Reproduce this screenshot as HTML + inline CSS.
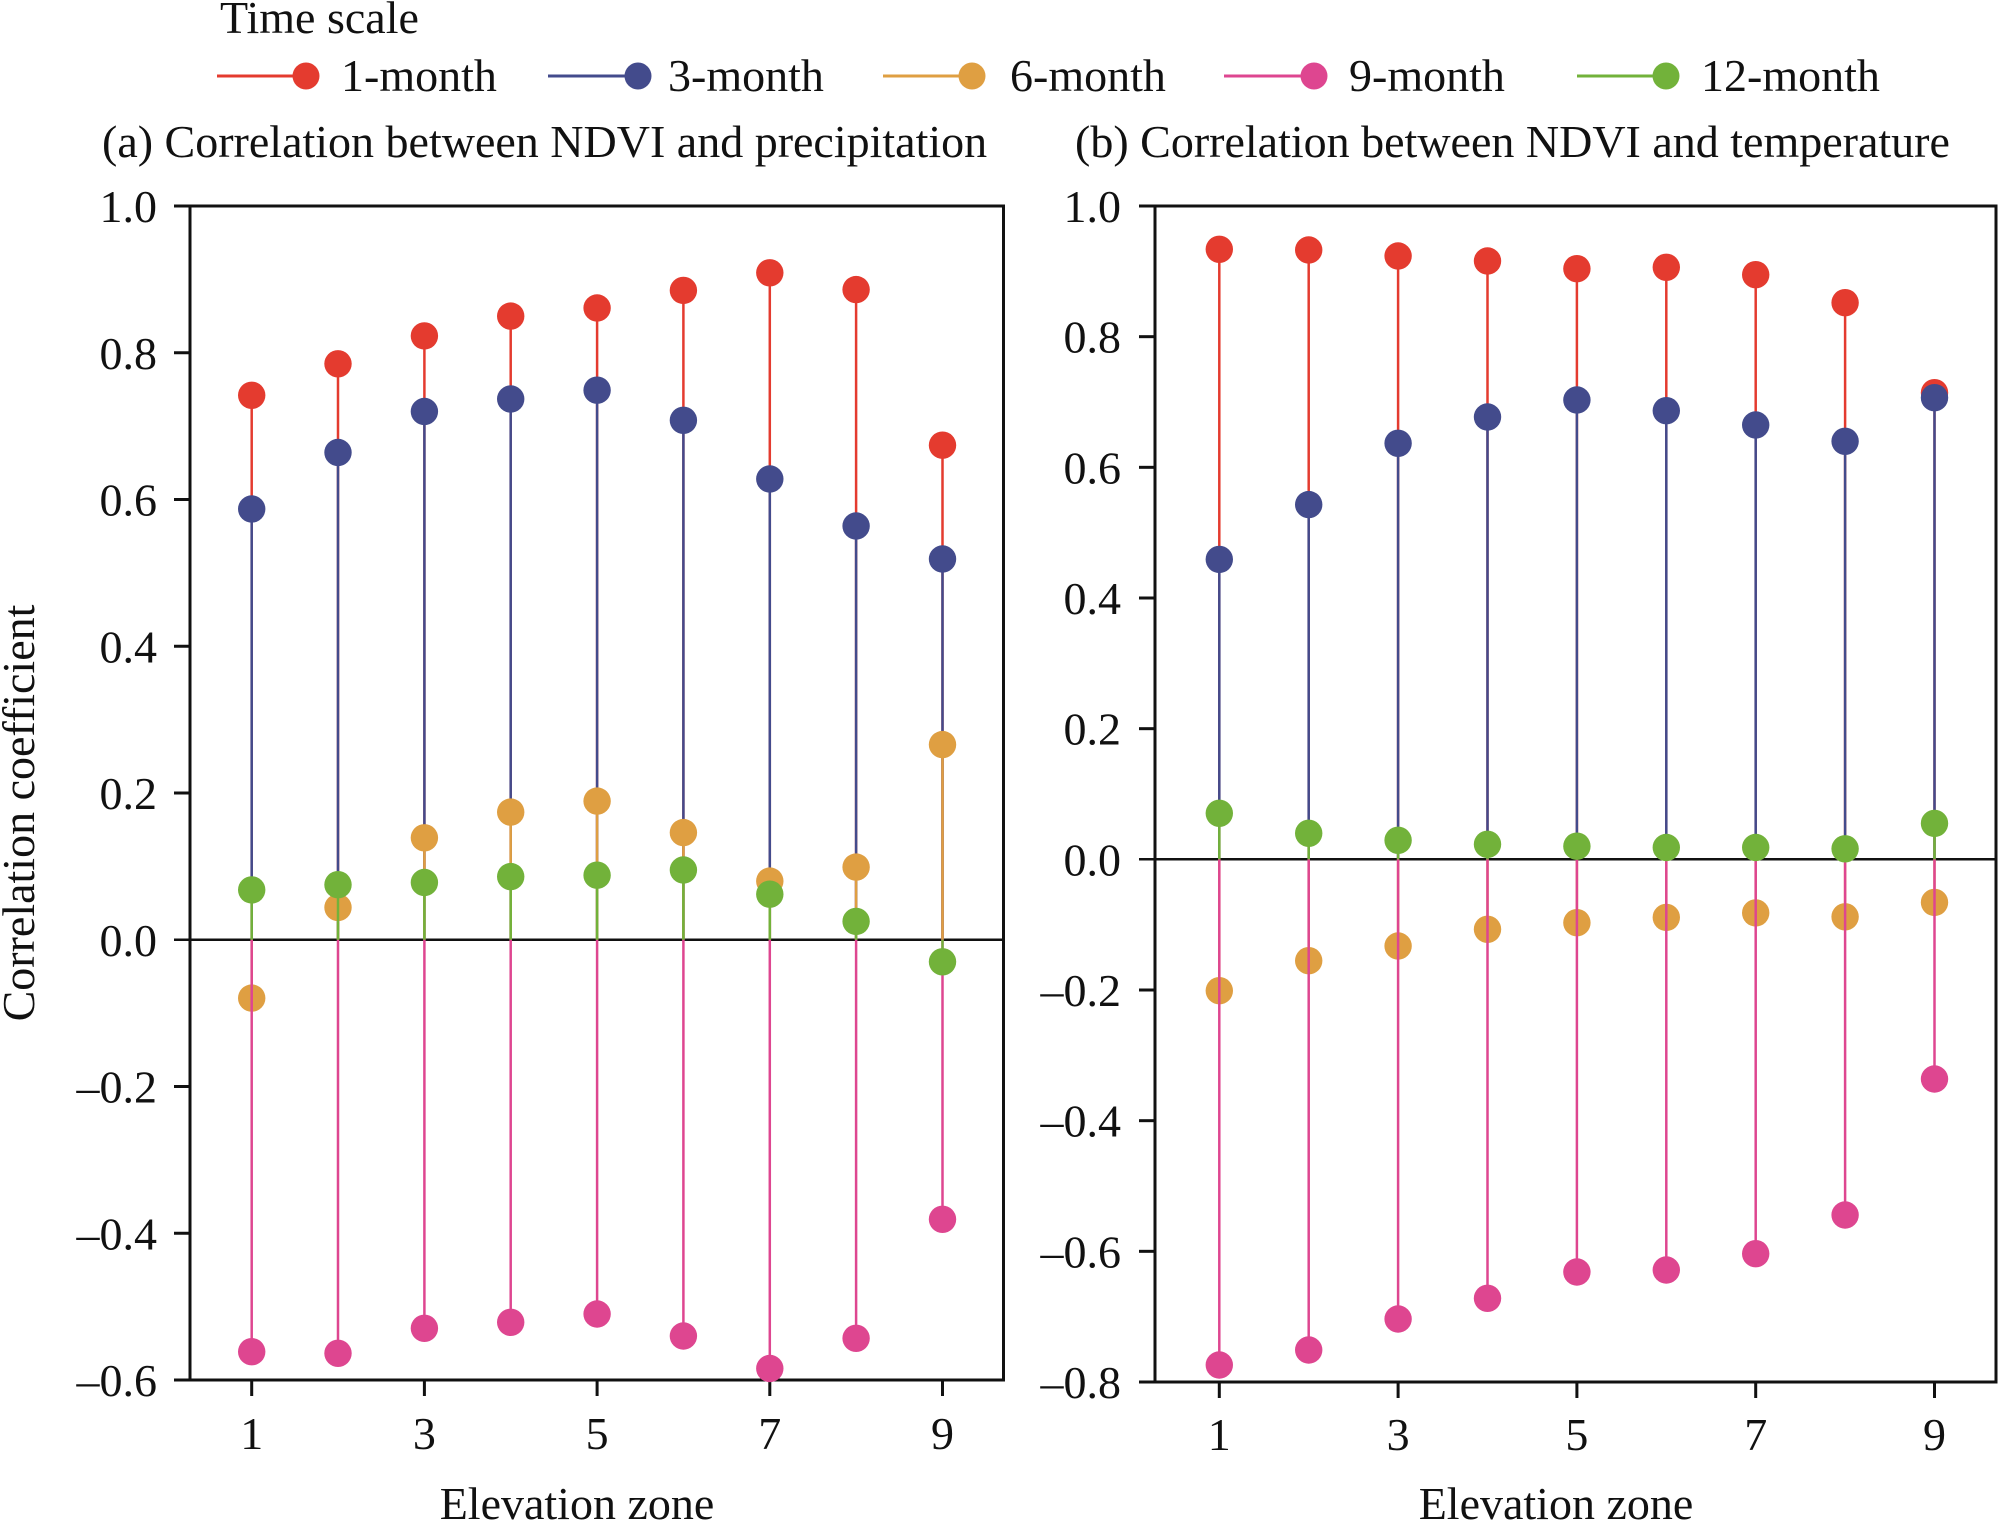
<!DOCTYPE html>
<html><head><meta charset="utf-8"><style>
html,body{margin:0;padding:0;background:#fff;}
svg{display:block;}
text{font-family:"Liberation Serif","Times New Roman",serif;font-size:46px;fill:#111;}
</style></head><body>
<svg width="2000" height="1521" viewBox="0 0 2000 1521" xmlns="http://www.w3.org/2000/svg">
<rect width="2000" height="1521" fill="#fff"/>
<!-- Legend -->
<text x="220" y="33">Time scale</text>
<g stroke-width="3">
<line x1="217" y1="76" x2="306" y2="76" stroke="#E43B2F"/><circle cx="306" cy="76" r="13.5" fill="#E43B2F"/>
<line x1="548" y1="76" x2="638" y2="76" stroke="#434B8C"/><circle cx="638" cy="76" r="13.5" fill="#434B8C"/>
<line x1="883" y1="76" x2="972" y2="76" stroke="#DF9F42"/><circle cx="972" cy="76" r="13.5" fill="#DF9F42"/>
<line x1="1224" y1="76" x2="1314" y2="76" stroke="#DE4690"/><circle cx="1314" cy="76" r="13.5" fill="#DE4690"/>
<line x1="1577" y1="76" x2="1666" y2="76" stroke="#72B23A"/><circle cx="1666" cy="76" r="13.5" fill="#72B23A"/>
</g>
<text x="341" y="91">1-month</text>
<text x="668" y="91">3-month</text>
<text x="1010" y="91">6-month</text>
<text x="1349" y="91">9-month</text>
<text x="1701" y="91">12-month</text>
<!-- Titles -->
<text x="102" y="157">(a) Correlation between NDVI and precipitation</text>
<text x="1075" y="157">(b) Correlation between NDVI and temperature</text>
<!-- Y label -->
<text x="0" y="0" text-anchor="middle" transform="translate(34,813) rotate(-90)">Correlation coefficient</text>
<!-- X labels -->
<text x="577" y="1519" text-anchor="middle">Elevation zone</text>
<text x="1556" y="1519" text-anchor="middle">Elevation zone</text>

<!-- LEFT PANEL -->
<g stroke="#111" stroke-width="3" fill="none">
<rect x="190" y="206" width="813.5" height="1174"/>
<line x1="174" y1="206" x2="190" y2="206"/>
<line x1="174" y1="352.75" x2="190" y2="352.75"/>
<line x1="174" y1="499.5" x2="190" y2="499.5"/>
<line x1="174" y1="646.25" x2="190" y2="646.25"/>
<line x1="174" y1="793" x2="190" y2="793"/>
<line x1="174" y1="1086.5" x2="190" y2="1086.5"/>
<line x1="174" y1="1233.25" x2="190" y2="1233.25"/>
<line x1="174" y1="1380" x2="190" y2="1380"/>
<line x1="251.7" y1="1380" x2="251.7" y2="1396"/>
<line x1="424.4" y1="1380" x2="424.4" y2="1396"/>
<line x1="597.1" y1="1380" x2="597.1" y2="1396"/>
<line x1="769.8" y1="1380" x2="769.8" y2="1396"/>
<line x1="942.5" y1="1380" x2="942.5" y2="1396"/>
</g>
<line x1="174" y1="939.75" x2="1003.5" y2="939.75" stroke="#111" stroke-width="2.5"/>
<g text-anchor="end">
<text x="157" y="222">1.0</text>
<text x="157" y="368.75">0.8</text>
<text x="157" y="515.5">0.6</text>
<text x="157" y="662.25">0.4</text>
<text x="157" y="809">0.2</text>
<text x="157" y="955.75">0.0</text>
<text x="157" y="1102.5">–0.2</text>
<text x="157" y="1249.25">–0.4</text>
<text x="157" y="1396">–0.6</text>
</g>
<g text-anchor="middle">
<text x="251.7" y="1449">1</text>
<text x="424.4" y="1449">3</text>
<text x="597.1" y="1449">5</text>
<text x="769.8" y="1449">7</text>
<text x="942.5" y="1449">9</text>
</g>
<!-- left series: red -->
<g stroke="#E43B2F" stroke-width="2.5" fill="#E43B2F">
<line x1="251.7" y1="939.75" x2="251.7" y2="395.3"/><circle cx="251.7" cy="395.3" r="13.7" stroke="none"/>
<line x1="338.0" y1="939.75" x2="338.0" y2="363.8"/><circle cx="338.0" cy="363.8" r="13.7" stroke="none"/>
<line x1="424.4" y1="939.75" x2="424.4" y2="335.9"/><circle cx="424.4" cy="335.9" r="13.7" stroke="none"/>
<line x1="510.7" y1="939.75" x2="510.7" y2="316.1"/><circle cx="510.7" cy="316.1" r="13.7" stroke="none"/>
<line x1="597.1" y1="939.75" x2="597.1" y2="308.0"/><circle cx="597.1" cy="308.0" r="13.7" stroke="none"/>
<line x1="683.4" y1="939.75" x2="683.4" y2="290.4"/><circle cx="683.4" cy="290.4" r="13.7" stroke="none"/>
<line x1="769.8" y1="939.75" x2="769.8" y2="272.8"/><circle cx="769.8" cy="272.8" r="13.7" stroke="none"/>
<line x1="856.1" y1="939.75" x2="856.1" y2="289.6"/><circle cx="856.1" cy="289.6" r="13.7" stroke="none"/>
<line x1="942.5" y1="939.75" x2="942.5" y2="445.2"/><circle cx="942.5" cy="445.2" r="13.7" stroke="none"/>
</g>
<g stroke="#434B8C" stroke-width="2.5" fill="#434B8C">
<line x1="251.7" y1="939.75" x2="251.7" y2="509.0"/><circle cx="251.7" cy="509.0" r="13.7" stroke="none"/>
<line x1="338.0" y1="939.75" x2="338.0" y2="452.5"/><circle cx="338.0" cy="452.5" r="13.7" stroke="none"/>
<line x1="424.4" y1="939.75" x2="424.4" y2="411.5"/><circle cx="424.4" cy="411.5" r="13.7" stroke="none"/>
<line x1="510.7" y1="939.75" x2="510.7" y2="399.0"/><circle cx="510.7" cy="399.0" r="13.7" stroke="none"/>
<line x1="597.1" y1="939.75" x2="597.1" y2="390.2"/><circle cx="597.1" cy="390.2" r="13.7" stroke="none"/>
<line x1="683.4" y1="939.75" x2="683.4" y2="420.3"/><circle cx="683.4" cy="420.3" r="13.7" stroke="none"/>
<line x1="769.8" y1="939.75" x2="769.8" y2="479.0"/><circle cx="769.8" cy="479.0" r="13.7" stroke="none"/>
<line x1="856.1" y1="939.75" x2="856.1" y2="526.0"/><circle cx="856.1" cy="526.0" r="13.7" stroke="none"/>
<line x1="942.5" y1="939.75" x2="942.5" y2="559.0"/><circle cx="942.5" cy="559.0" r="13.7" stroke="none"/>
</g>
<g stroke="#DF9F42" stroke-width="2.5" fill="#DF9F42">
<line x1="251.7" y1="939.75" x2="251.7" y2="998.1"/><circle cx="251.7" cy="998.1" r="13.7" stroke="none"/>
<line x1="338.0" y1="939.75" x2="338.0" y2="907.5"/><circle cx="338.0" cy="907.5" r="13.7" stroke="none"/>
<line x1="424.4" y1="939.75" x2="424.4" y2="837.8"/><circle cx="424.4" cy="837.8" r="13.7" stroke="none"/>
<line x1="510.7" y1="939.75" x2="510.7" y2="812.1"/><circle cx="510.7" cy="812.1" r="13.7" stroke="none"/>
<line x1="597.1" y1="939.75" x2="597.1" y2="801.1"/><circle cx="597.1" cy="801.1" r="13.7" stroke="none"/>
<line x1="683.4" y1="939.75" x2="683.4" y2="832.6"/><circle cx="683.4" cy="832.6" r="13.7" stroke="none"/>
<line x1="769.8" y1="939.75" x2="769.8" y2="881.1"/><circle cx="769.8" cy="881.1" r="13.7" stroke="none"/>
<line x1="856.1" y1="939.75" x2="856.1" y2="867.1"/><circle cx="856.1" cy="867.1" r="13.7" stroke="none"/>
<line x1="942.5" y1="939.75" x2="942.5" y2="744.6"/><circle cx="942.5" cy="744.6" r="13.7" stroke="none"/>
</g>
<g stroke="#DE4690" stroke-width="2.5" fill="#DE4690">
<line x1="251.7" y1="939.75" x2="251.7" y2="1351.7"/><circle cx="251.7" cy="1351.7" r="13.7" stroke="none"/>
<line x1="338.0" y1="939.75" x2="338.0" y2="1353.3"/><circle cx="338.0" cy="1353.3" r="13.7" stroke="none"/>
<line x1="424.4" y1="939.75" x2="424.4" y2="1328.3"/><circle cx="424.4" cy="1328.3" r="13.7" stroke="none"/>
<line x1="510.7" y1="939.75" x2="510.7" y2="1322.3"/><circle cx="510.7" cy="1322.3" r="13.7" stroke="none"/>
<line x1="597.1" y1="939.75" x2="597.1" y2="1314.0"/><circle cx="597.1" cy="1314.0" r="13.7" stroke="none"/>
<line x1="683.4" y1="939.75" x2="683.4" y2="1336.0"/><circle cx="683.4" cy="1336.0" r="13.7" stroke="none"/>
<line x1="769.8" y1="939.75" x2="769.8" y2="1368.5"/><circle cx="769.8" cy="1368.5" r="13.7" stroke="none"/>
<line x1="856.1" y1="939.75" x2="856.1" y2="1338.3"/><circle cx="856.1" cy="1338.3" r="13.7" stroke="none"/>
<line x1="942.5" y1="939.75" x2="942.5" y2="1219.3"/><circle cx="942.5" cy="1219.3" r="13.7" stroke="none"/>
</g>
<g stroke="#72B23A" stroke-width="2.5" fill="#72B23A">
<line x1="251.7" y1="939.75" x2="251.7" y2="889.9"/><circle cx="251.7" cy="889.9" r="13.7" stroke="none"/>
<line x1="338.0" y1="939.75" x2="338.0" y2="884.7"/><circle cx="338.0" cy="884.7" r="13.7" stroke="none"/>
<line x1="424.4" y1="939.75" x2="424.4" y2="882.5"/><circle cx="424.4" cy="882.5" r="13.7" stroke="none"/>
<line x1="510.7" y1="939.75" x2="510.7" y2="876.6"/><circle cx="510.7" cy="876.6" r="13.7" stroke="none"/>
<line x1="597.1" y1="939.75" x2="597.1" y2="875.2"/><circle cx="597.1" cy="875.2" r="13.7" stroke="none"/>
<line x1="683.4" y1="939.75" x2="683.4" y2="870.0"/><circle cx="683.4" cy="870.0" r="13.7" stroke="none"/>
<line x1="769.8" y1="939.75" x2="769.8" y2="894.2"/><circle cx="769.8" cy="894.2" r="13.7" stroke="none"/>
<line x1="856.1" y1="939.75" x2="856.1" y2="921.4"/><circle cx="856.1" cy="921.4" r="13.7" stroke="none"/>
<line x1="942.5" y1="939.75" x2="942.5" y2="961.8"/><circle cx="942.5" cy="961.8" r="13.7" stroke="none"/>
</g>

<!-- RIGHT PANEL -->
<g stroke="#111" stroke-width="3" fill="none">
<rect x="1155" y="206" width="841" height="1176"/>
<line x1="1139" y1="206" x2="1155" y2="206"/>
<line x1="1139" y1="336.67" x2="1155" y2="336.67"/>
<line x1="1139" y1="467.33" x2="1155" y2="467.33"/>
<line x1="1139" y1="598" x2="1155" y2="598"/>
<line x1="1139" y1="728.67" x2="1155" y2="728.67"/>
<line x1="1139" y1="990" x2="1155" y2="990"/>
<line x1="1139" y1="1120.67" x2="1155" y2="1120.67"/>
<line x1="1139" y1="1251.33" x2="1155" y2="1251.33"/>
<line x1="1139" y1="1382" x2="1155" y2="1382"/>
<line x1="1219.3" y1="1382" x2="1219.3" y2="1398"/>
<line x1="1398.1" y1="1382" x2="1398.1" y2="1398"/>
<line x1="1576.9" y1="1382" x2="1576.9" y2="1398"/>
<line x1="1755.7" y1="1382" x2="1755.7" y2="1398"/>
<line x1="1934.5" y1="1382" x2="1934.5" y2="1398"/>
</g>
<line x1="1139" y1="859.3" x2="1996" y2="859.3" stroke="#111" stroke-width="2.5"/>
<g text-anchor="end">
<text x="1121" y="222">1.0</text>
<text x="1121" y="352.67">0.8</text>
<text x="1121" y="483.33">0.6</text>
<text x="1121" y="614">0.4</text>
<text x="1121" y="744.67">0.2</text>
<text x="1121" y="875.3">0.0</text>
<text x="1121" y="1006">–0.2</text>
<text x="1121" y="1136.67">–0.4</text>
<text x="1121" y="1267.33">–0.6</text>
<text x="1121" y="1398">–0.8</text>
</g>
<g text-anchor="middle">
<text x="1219.3" y="1450">1</text>
<text x="1398.1" y="1450">3</text>
<text x="1576.9" y="1450">5</text>
<text x="1755.7" y="1450">7</text>
<text x="1934.5" y="1450">9</text>
</g>
<g stroke="#E43B2F" stroke-width="2.5" fill="#E43B2F">
<line x1="1219.3" y1="859.3" x2="1219.3" y2="249.3"/><circle cx="1219.3" cy="249.3" r="13.7" stroke="none"/>
<line x1="1308.7" y1="859.3" x2="1308.7" y2="250.0"/><circle cx="1308.7" cy="250.0" r="13.7" stroke="none"/>
<line x1="1398.1" y1="859.3" x2="1398.1" y2="256.0"/><circle cx="1398.1" cy="256.0" r="13.7" stroke="none"/>
<line x1="1487.5" y1="859.3" x2="1487.5" y2="261.0"/><circle cx="1487.5" cy="261.0" r="13.7" stroke="none"/>
<line x1="1576.9" y1="859.3" x2="1576.9" y2="268.7"/><circle cx="1576.9" cy="268.7" r="13.7" stroke="none"/>
<line x1="1666.3" y1="859.3" x2="1666.3" y2="267.3"/><circle cx="1666.3" cy="267.3" r="13.7" stroke="none"/>
<line x1="1755.7" y1="859.3" x2="1755.7" y2="274.7"/><circle cx="1755.7" cy="274.7" r="13.7" stroke="none"/>
<line x1="1845.1" y1="859.3" x2="1845.1" y2="302.7"/><circle cx="1845.1" cy="302.7" r="13.7" stroke="none"/>
<line x1="1934.5" y1="859.3" x2="1934.5" y2="392.7"/><circle cx="1934.5" cy="392.7" r="13.7" stroke="none"/>
</g>
<g stroke="#434B8C" stroke-width="2.5" fill="#434B8C">
<line x1="1219.3" y1="859.3" x2="1219.3" y2="559.4"/><circle cx="1219.3" cy="559.4" r="13.7" stroke="none"/>
<line x1="1308.7" y1="859.3" x2="1308.7" y2="504.6"/><circle cx="1308.7" cy="504.6" r="13.7" stroke="none"/>
<line x1="1398.1" y1="859.3" x2="1398.1" y2="443.3"/><circle cx="1398.1" cy="443.3" r="13.7" stroke="none"/>
<line x1="1487.5" y1="859.3" x2="1487.5" y2="417.0"/><circle cx="1487.5" cy="417.0" r="13.7" stroke="none"/>
<line x1="1576.9" y1="859.3" x2="1576.9" y2="400.0"/><circle cx="1576.9" cy="400.0" r="13.7" stroke="none"/>
<line x1="1666.3" y1="859.3" x2="1666.3" y2="410.7"/><circle cx="1666.3" cy="410.7" r="13.7" stroke="none"/>
<line x1="1755.7" y1="859.3" x2="1755.7" y2="425.0"/><circle cx="1755.7" cy="425.0" r="13.7" stroke="none"/>
<line x1="1845.1" y1="859.3" x2="1845.1" y2="441.3"/><circle cx="1845.1" cy="441.3" r="13.7" stroke="none"/>
<line x1="1934.5" y1="859.3" x2="1934.5" y2="397.7"/><circle cx="1934.5" cy="397.7" r="13.7" stroke="none"/>
</g>
<g stroke="#DF9F42" stroke-width="2.5" fill="#DF9F42">
<line x1="1219.3" y1="859.3" x2="1219.3" y2="990.7"/><circle cx="1219.3" cy="990.7" r="13.7" stroke="none"/>
<line x1="1308.7" y1="859.3" x2="1308.7" y2="960.7"/><circle cx="1308.7" cy="960.7" r="13.7" stroke="none"/>
<line x1="1398.1" y1="859.3" x2="1398.1" y2="946.0"/><circle cx="1398.1" cy="946.0" r="13.7" stroke="none"/>
<line x1="1487.5" y1="859.3" x2="1487.5" y2="929.3"/><circle cx="1487.5" cy="929.3" r="13.7" stroke="none"/>
<line x1="1576.9" y1="859.3" x2="1576.9" y2="922.7"/><circle cx="1576.9" cy="922.7" r="13.7" stroke="none"/>
<line x1="1666.3" y1="859.3" x2="1666.3" y2="917.4"/><circle cx="1666.3" cy="917.4" r="13.7" stroke="none"/>
<line x1="1755.7" y1="859.3" x2="1755.7" y2="912.9"/><circle cx="1755.7" cy="912.9" r="13.7" stroke="none"/>
<line x1="1845.1" y1="859.3" x2="1845.1" y2="916.8"/><circle cx="1845.1" cy="916.8" r="13.7" stroke="none"/>
<line x1="1934.5" y1="859.3" x2="1934.5" y2="902.4"/><circle cx="1934.5" cy="902.4" r="13.7" stroke="none"/>
</g>
<g stroke="#DE4690" stroke-width="2.5" fill="#DE4690">
<line x1="1219.3" y1="859.3" x2="1219.3" y2="1365.0"/><circle cx="1219.3" cy="1365.0" r="13.7" stroke="none"/>
<line x1="1308.7" y1="859.3" x2="1308.7" y2="1350.0"/><circle cx="1308.7" cy="1350.0" r="13.7" stroke="none"/>
<line x1="1398.1" y1="859.3" x2="1398.1" y2="1319.0"/><circle cx="1398.1" cy="1319.0" r="13.7" stroke="none"/>
<line x1="1487.5" y1="859.3" x2="1487.5" y2="1298.3"/><circle cx="1487.5" cy="1298.3" r="13.7" stroke="none"/>
<line x1="1576.9" y1="859.3" x2="1576.9" y2="1272.0"/><circle cx="1576.9" cy="1272.0" r="13.7" stroke="none"/>
<line x1="1666.3" y1="859.3" x2="1666.3" y2="1270.0"/><circle cx="1666.3" cy="1270.0" r="13.7" stroke="none"/>
<line x1="1755.7" y1="859.3" x2="1755.7" y2="1253.7"/><circle cx="1755.7" cy="1253.7" r="13.7" stroke="none"/>
<line x1="1845.1" y1="859.3" x2="1845.1" y2="1215.0"/><circle cx="1845.1" cy="1215.0" r="13.7" stroke="none"/>
<line x1="1934.5" y1="859.3" x2="1934.5" y2="1079.0"/><circle cx="1934.5" cy="1079.0" r="13.7" stroke="none"/>
</g>
<g stroke="#72B23A" stroke-width="2.5" fill="#72B23A">
<line x1="1219.3" y1="859.3" x2="1219.3" y2="813.3"/><circle cx="1219.3" cy="813.3" r="13.7" stroke="none"/>
<line x1="1308.7" y1="859.3" x2="1308.7" y2="833.3"/><circle cx="1308.7" cy="833.3" r="13.7" stroke="none"/>
<line x1="1398.1" y1="859.3" x2="1398.1" y2="840.3"/><circle cx="1398.1" cy="840.3" r="13.7" stroke="none"/>
<line x1="1487.5" y1="859.3" x2="1487.5" y2="844.3"/><circle cx="1487.5" cy="844.3" r="13.7" stroke="none"/>
<line x1="1576.9" y1="859.3" x2="1576.9" y2="846.2"/><circle cx="1576.9" cy="846.2" r="13.7" stroke="none"/>
<line x1="1666.3" y1="859.3" x2="1666.3" y2="847.5"/><circle cx="1666.3" cy="847.5" r="13.7" stroke="none"/>
<line x1="1755.7" y1="859.3" x2="1755.7" y2="847.5"/><circle cx="1755.7" cy="847.5" r="13.7" stroke="none"/>
<line x1="1845.1" y1="859.3" x2="1845.1" y2="848.8"/><circle cx="1845.1" cy="848.8" r="13.7" stroke="none"/>
<line x1="1934.5" y1="859.3" x2="1934.5" y2="823.4"/><circle cx="1934.5" cy="823.4" r="13.7" stroke="none"/>
</g>
</svg>
</body></html>
